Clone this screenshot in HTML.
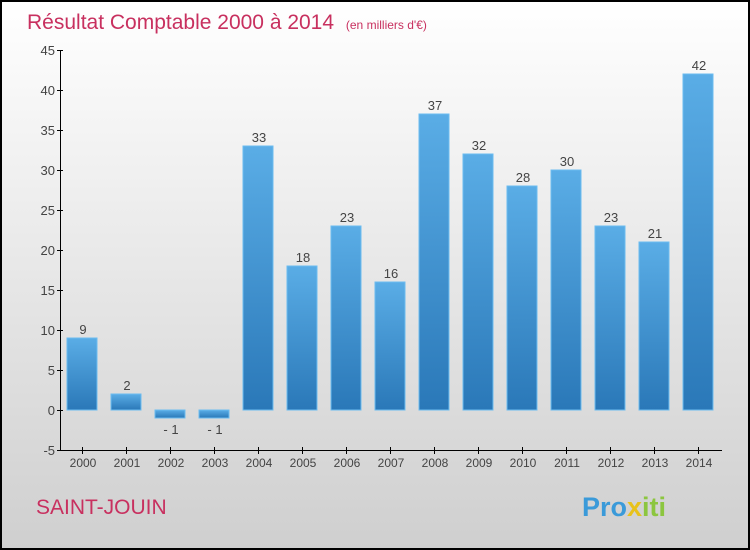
<!DOCTYPE html>
<html><head><meta charset="utf-8"><style>
body{margin:0}
#c{width:750px;height:550px;position:relative;overflow:hidden}
</style></head><body>
<div id="c">
<svg id="s" width="750" height="550" xmlns="http://www.w3.org/2000/svg" font-family="Liberation Sans, sans-serif">
<defs>
<linearGradient id="bg" x1="0" y1="0" x2="0" y2="1"><stop offset="0" stop-color="#ffffff"/><stop offset="1" stop-color="#cfcfcf"/></linearGradient>
<linearGradient id="bar" x1="0" y1="0" x2="0" y2="1"><stop offset="0" stop-color="#5aade6"/><stop offset="1" stop-color="#2a78b8"/></linearGradient>
</defs>
<rect x="1" y="1" width="748" height="548" fill="url(#bg)" stroke="#000" stroke-width="2"/>
<text x="27" y="29" font-size="21" fill="#c8305f">Résultat Comptable 2000 à 2014 <tspan font-size="12" dx="6">(en milliers d'€)</tspan></text>
<text x="36" y="514" font-size="21" fill="#c8305f">SAINT-JOUIN</text>
<text x="582" y="516" font-size="27" font-weight="bold" fill="#e88a1a"><tspan fill="#3a9ad9">Pro</tspan><tspan fill="#e8c21a">x</tspan><tspan fill="#8cc63f">iti</tspan></text>
<g id="g"></g>
</svg>
</div>
<script>
const categories=["2000","2001","2002","2003","2004","2005","2006","2007","2008","2009","2010","2011","2012","2013","2014"];
const values=[9,2,-1,-1,33,18,23,16,37,32,28,30,23,21,42];
const yTicks=[-5,0,5,10,15,20,25,30,35,40,45];
const NS="http://www.w3.org/2000/svg";
const g=document.getElementById('g');
const y=v=>410-v*8;
const x=i=>82+i*44;
function mk(t,a){const e=document.createElementNS(NS,t);for(const k in a)e.setAttribute(k,a[k]);g.appendChild(e);return e;}
let ax=mk('line',{x1:60.5,y1:50,x2:60.5,y2:450.5,stroke:'#000','stroke-width':1});


let bx=mk('line',{x1:60.5,y1:450.5,x2:722,y2:450.5,stroke:'#000','stroke-width':1});


yTicks.forEach(v=>{
 let t=mk('line',{x1:57,x2:63,y1:y(v)+.5,y2:y(v)+.5,stroke:'#000'});
 
 
 let l=mk('text',{x:55,y:y(v)+5,'font-size':13,fill:'#444','text-anchor':'end'});
 l.textContent=v;
 
 
});
categories.forEach((c,i)=>{
 const v=values[i];
 let t=mk('line',{x1:x(i)+.5,x2:x(i)+.5,y1:447,y2:454,stroke:'#000'});
 
 
 let l=mk('text',{x:x(i)+1,y:467,'font-size':12,fill:'#444','text-anchor':'middle'});
 l.textContent=c;
 
 
 const top=Math.min(y(v),y(0)),h=Math.abs(y(v)-y(0));
 let b=mk('rect',{x:x(i)-15,y:top,width:30,height:h,fill:'url(#bar)',stroke:'#6bbcf0','stroke-width':1});
 
 
 let vl=mk('text',{x:x(i)+1,y:v>=0?y(v)-4:y(0)+h+16,'font-size':13,fill:'#444','text-anchor':'middle'});
 vl.textContent=v<0?'- '+Math.abs(v):v;
 
 
});
</script>
</body></html>
